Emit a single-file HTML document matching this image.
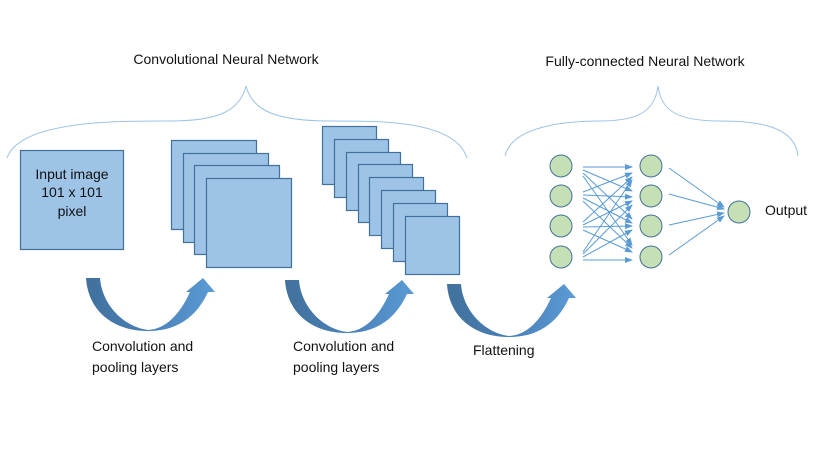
<!DOCTYPE html>
<html><head><meta charset="utf-8"><style>
html,body{margin:0;padding:0;background:#fff;}
svg{display:block;font-family:"Liberation Sans",sans-serif;}
</style></head><body>
<svg width="830" height="467" viewBox="0 0 830 467" xmlns="http://www.w3.org/2000/svg">
<defs>
<linearGradient id="g" x1="0" x2="1" y1="0" y2="0">
<stop offset="0" stop-color="#41719c"/><stop offset="0.5" stop-color="#4a80b8"/><stop offset="1" stop-color="#5b9bd5"/>
</linearGradient>
<marker id="ah" markerWidth="8" markerHeight="8" refX="7" refY="4" orient="auto" markerUnits="userSpaceOnUse">
<path d="M0,1 L8,4 L0,7 Z" fill="#5b9bd5"/></marker>
<path id="arr" d="M86,278 L100,278 C102,305 124,327 148,330 C166,329 180,314 190,292 L186,292 L203,278 L215,292 L208,292 C196,318 176,331 148,331 C112,331 88,310 86,278 Z" fill="url(#g)"/>
</defs>
<g fill="none" stroke="#9dc3e6" stroke-width="1">
<path d="M7,158 C20,120 120,121 170,121 C220,121 240,110 246,86 C252,110 275,121 330,121 C380,121 455,120 467,158"/>
<path d="M505,156 C512,125 570,121 600,121 C640,121 655,110 658,86 C661,110 676,121 720,121 C755,121 795,125 798,156"/>
</g>
<g fill="#9dc3e6" stroke="#41719c" stroke-width="1.2">
<rect x="20.5" y="150.5" width="103" height="99"/>
<rect x="171.5" y="140.5" width="85" height="89"/>
<rect x="183.5" y="153.5" width="85" height="89"/>
<rect x="194.5" y="165.5" width="85" height="89"/>
<rect x="206.5" y="178.5" width="85" height="89"/>
<rect x="322.5" y="126.5" width="54" height="58"/>
<rect x="334.5" y="139.5" width="54" height="58"/>
<rect x="346.5" y="152.5" width="54" height="58"/>
<rect x="358.5" y="164.5" width="54" height="58"/>
<rect x="369.5" y="177.5" width="54" height="58"/>
<rect x="381.5" y="190.5" width="54" height="58"/>
<rect x="393.5" y="203.5" width="54" height="58"/>
<rect x="405.5" y="216.5" width="54" height="58"/>
</g>
<g font-size="14" fill="#111" text-anchor="middle">
<text x="72" y="179">Input image</text>
<text x="72" y="197">101 x 101</text>
<text x="72" y="216">pixel</text>
</g>
<use href="#arr"/>
<use href="#arr" transform="translate(199,2)"/>
<use href="#arr" transform="translate(361,6)"/>
<g stroke="#5b9bd5" stroke-width="1" marker-end="url(#ah)">
<line x1="583" y1="167" x2="632" y2="167"/>
<line x1="583" y1="170" x2="632" y2="191"/>
<line x1="583" y1="173" x2="632" y2="219"/>
<line x1="583" y1="176" x2="632" y2="245"/>
<line x1="583" y1="192" x2="632" y2="173"/>
<line x1="583" y1="195" x2="632" y2="197"/>
<line x1="583" y1="198" x2="632" y2="223"/>
<line x1="583" y1="201" x2="632" y2="248"/>
<line x1="583" y1="222" x2="632" y2="177"/>
<line x1="583" y1="225" x2="632" y2="201"/>
<line x1="583" y1="227" x2="632" y2="226"/>
<line x1="583" y1="230" x2="632" y2="252"/>
<line x1="583" y1="252" x2="632" y2="180"/>
<line x1="583" y1="254" x2="632" y2="205"/>
<line x1="583" y1="257" x2="632" y2="230"/>
<line x1="583" y1="260" x2="632" y2="260"/>
<line x1="669" y1="168" x2="724" y2="207"/>
<line x1="669" y1="194" x2="724" y2="209"/>
<line x1="669" y1="225" x2="724" y2="213"/>
<line x1="669" y1="255" x2="724" y2="216"/>
</g>
<g fill="#c5e0b4" stroke="#41719c" stroke-width="1">
<circle cx="561" cy="166" r="11"/><circle cx="561" cy="196" r="11"/><circle cx="561" cy="226" r="11"/><circle cx="561" cy="257" r="11"/>
<circle cx="651" cy="166" r="11"/><circle cx="651" cy="196" r="11"/><circle cx="651" cy="226" r="11"/><circle cx="651" cy="257" r="11"/>
<circle cx="739" cy="212" r="11"/>
</g>
<g font-size="14" fill="#111">
<text x="226" y="64" text-anchor="middle">Convolutional Neural Network</text>
<text x="645" y="66" text-anchor="middle">Fully-connected Neural Network</text>
<text x="765" y="215">Output</text>
<text x="92" y="351">Convolution and</text>
<text x="92" y="372">pooling layers</text>
<text x="293" y="351">Convolution and</text>
<text x="293" y="372">pooling layers</text>
<text x="473" y="355">Flattening</text>
</g>
</svg>
</body></html>
